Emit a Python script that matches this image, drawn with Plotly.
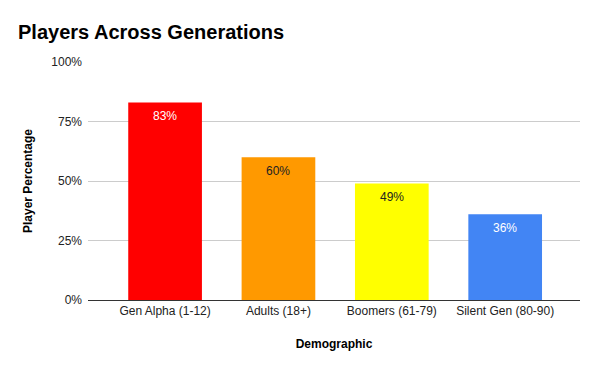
import plotly.graph_objects as go

categories = ["Gen Alpha (1-12)", "Adults (18+)", "Boomers (61-79)", "Silent Gen (80-90)"]
values = [0.83, 0.60, 0.49, 0.36]
labels = ["83%", "60%", "49%", "36%"]
colors = ["#ff0000", "#ff9900", "#ffff00", "#4285f4"]
text_colors = ["#ffffff", "#222222", "#222222", "#ffffff"]
y_ticks = [0, 0.25, 0.5, 0.75, 1.0]
y_tick_labels = ["0%", "25%", "50%", "75%", "100%"]

xs = list(range(len(categories)))

fig = go.Figure(go.Bar(
    x=xs,
    y=values,
    marker=dict(color=colors, line=dict(width=0)),
    width=0.65,
    hoverinfo="skip",
))

for xi, v, lab, tc in zip(xs, values, labels, text_colors):
    fig.add_annotation(x=xi, y=v, text=lab, showarrow=False, yanchor="top",
                       yshift=-5, font=dict(family="Liberation Sans, Arial", size=12, color=tc))

fig.update_layout(
    width=600, height=371,
    margin=dict(l=88, r=20, t=62, b=71),
    paper_bgcolor="white", plot_bgcolor="white",
    font=dict(family="Liberation Sans, Arial", size=12, color="#222222"),
    title=dict(text="<b>Players Across Generations</b>", x=0.03, xanchor="left",
               y=0.915, yanchor="middle",
               font=dict(size=20, color="#000000")),
    showlegend=False,
)
fig.update_xaxes(
    tickmode="array", tickvals=xs, ticktext=categories,
    range=[-0.68, 3.66], showgrid=False, zeroline=False,
    showline=True, linecolor="#333333", linewidth=1,
    ticks="", tickfont=dict(size=12, color="#222222"),
    title=dict(text="<b>Demographic</b>", font=dict(size=12, color="#000000"), standoff=22),
)
fig.update_yaxes(
    range=[0, 1.0], tickmode="array", tickvals=y_ticks, ticktext=y_tick_labels,
    showgrid=True, gridcolor="#cccccc", gridwidth=1, zeroline=False,
    ticks="", ticklabelstandoff=5, tickfont=dict(size=12, color="#222222"),
    title=dict(text="<b>Player Percentage</b>", font=dict(size=12, color="#000000"), standoff=16),
)

fig.write_html("out.html", config={"displayModeBar": False},
               post_script="document.body.style.margin='0';")
